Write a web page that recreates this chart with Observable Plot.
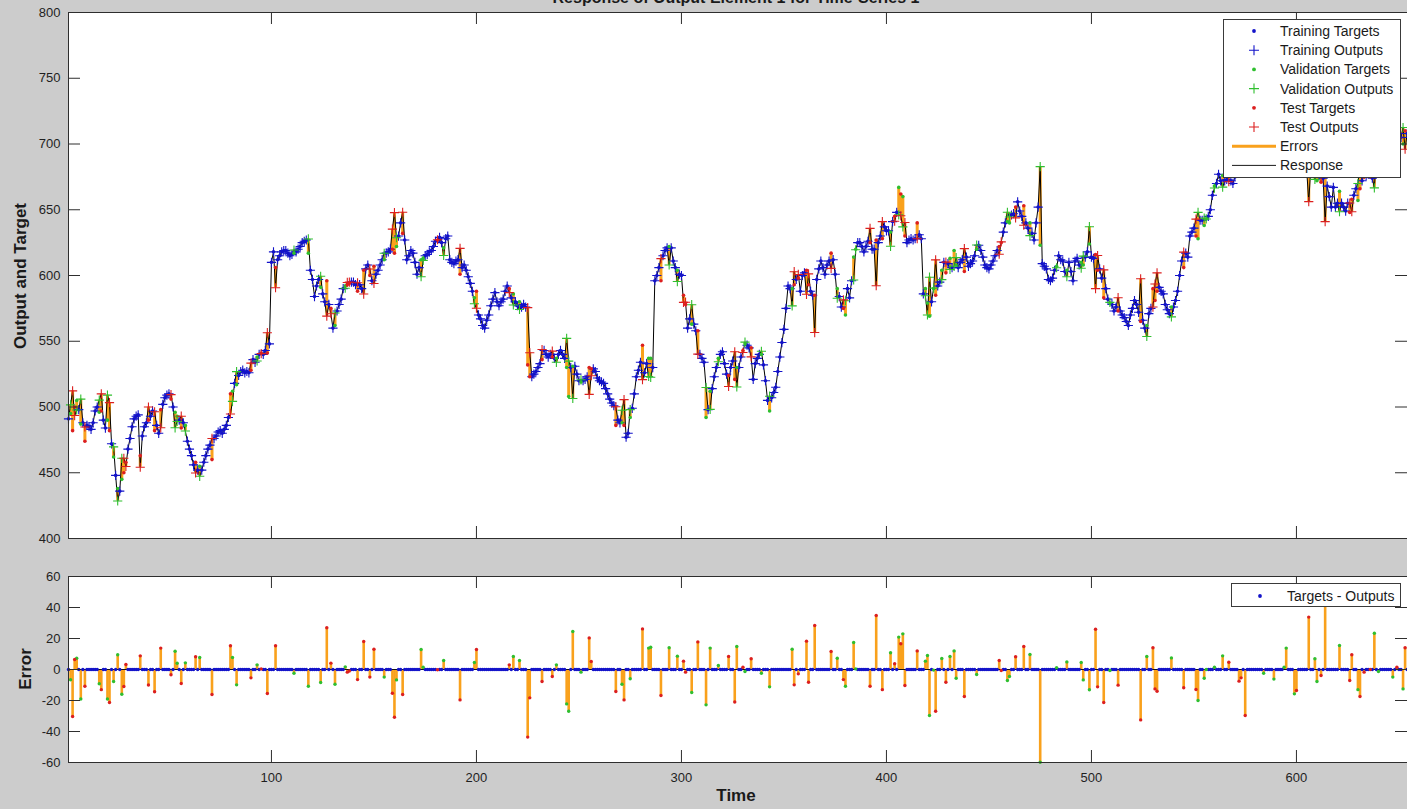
<!DOCTYPE html>
<html>
<head>
<meta charset="utf-8">
<script src="https://cdn.jsdelivr.net/npm/d3@7"></script>
<script src="https://cdn.jsdelivr.net/npm/@observablehq/plot@0.6"></script>
<style>
  html, body { margin: 0; padding: 0; background: #cccccc; overflow: hidden; }
  #fig { position: relative; width: 1407px; height: 809px; font-family: "Liberation Sans", Arial, Helvetica, sans-serif; color: #1a1a1a; }
  .panel { position: absolute; left: 0; }
  .legend { position: absolute; background: #ffffff; border: 1px solid #3a3a3a; box-sizing: border-box; }
  .legend svg { display: block; }
  #labels { position: absolute; left: 0; top: 0; pointer-events: none; }
</style>
</head>
<body>
<div id="fig">
  <div id="top" class="panel" style="top:0px"></div>
  <div id="bottom" class="panel" style="top:560px"></div>
  <svg id="labels" width="1407" height="809">
    <text x="736" y="3" text-anchor="middle" font-weight="bold" font-size="16" fill="#1a1a1a">Response of Output Element 1 for Time-Series 1</text>
    <text transform="translate(26,276) rotate(-90)" text-anchor="middle" font-weight="bold" font-size="17" fill="#1a1a1a">Output and Target</text>
    <text transform="translate(31,669) rotate(-90)" text-anchor="middle" font-weight="bold" font-size="17" fill="#1a1a1a">Error</text>
    <text x="736" y="801" text-anchor="middle" font-weight="bold" font-size="17" fill="#1a1a1a">Time</text>
  </svg>
  <div id="legendTop" class="legend" style="left:1223px;top:19px;width:178px;height:159px"></div>
  <div id="legendBottom" class="legend" style="left:1231px;top:583px;width:170px;height:24px"></div>
</div>
<script>
// Target series, one value per time step (t = 1, 2, 3, ...)
const targets = [
  491,495,482,500,505,498,487,488,474,486,
  485,483,488,497,500,496,497,490,484,490,
  482,472,462,448,438,436,445,450,458,468,
  476,485,491,493,494,463,478,485,488,490,
  493,497,482,486,480,498,502,507,509,510,
  506,500,496,493,490,484,488,486,474,468,
  463,456,458,452,455,452,458,463,468,471,
  460,476,478,481,482,480,483,486,492,510,
  512,518,517,524,527,528,526,527,526,528,
  536,534,538,540,541,540,543,541,548,610,
  618,606,612,615,618,619,619,617,615,616,
  617,618,620,622,625,626,627,617,604,597,
  584,592,597,591,586,580,596,578,575,560,
  562,573,578,582,590,592,593,594,595,595,
  593,588,593,590,604,605,608,600,596,607,
  601,604,608,612,612,617,618,620,620,617,
  622,630,640,632,627,612,615,619,617,610,
  601,606,612,613,615,616,618,619,622,626,
  627,629,625,621,628,630,612,610,609,611,
  612,601,606,608,604,599,594,588,583,588,
  570,567,562,560,566,570,577,582,587,580,
  577,580,582,588,592,590,583,586,580,577,
  580,576,578,576,532,523,523,525,527,530,
  533,536,543,540,538,540,538,537,537,540,
  543,540,537,530,508,530,531,531,525,520,
  519,520,521,523,530,529,529,527,522,520,
  519,518,514,510,506,503,501,486,490,488,
  488,486,477,480,492,499,510,523,528,534,
  547,526,533,537,537,530,596,600,606,596,
  615,619,621,622,621,611,606,604,601,600,
  585,578,560,567,563,563,558,558,540,537,
  534,492,498,512,514,523,530,537,540,542,
  533,525,524,530,535,521,530,530,538,543,
  548,547,545,545,521,533,537,540,540,532,
  520,505,497,507,511,515,527,538,549,559,
  575,592,590,590,593,597,598,588,600,602,
  604,593,588,585,585,597,605,611,606,601,
  608,611,617,612,601,590,584,576,575,570,
  590,583,596,614,620,625,625,622,618,622,
  626,625,620,620,627,625,630,628,637,634,
  634,633,641,645,648,667,662,660,630,625,
  627,628,627,628,640,631,628,586,590,579,
  569,580,590,585,592,595,604,610,602,609,
  613,606,619,608,606,610,612,603,614,607,
  609,611,615,620,623,619,614,608,606,605,
  608,611,615,619,622,625,633,640,641,640,
  646,647,652,656,649,645,653,640,636,640,
  632,627,640,652,623,609,607,605,597,596,
  598,604,607,615,612,611,603,604,610,603,
  596,611,613,608,610,608,614,618,624,614,
  613,616,604,605,598,583,590,582,579,578,
  573,576,573,573,570,568,565,562,570,575,
  581,578,572,565,566,560,562,571,575,590,
  581,588,591,588,586,578,574,571,576,576,
  581,588,600,611,606,617,614,630,633,636,
  630,628,642,642,638,643,645,650,661,668,
  670,677,672,676,672,673,676,672,670,675,
  678,682,684,680,685,688,690,693,690,687,
  690,694,696,695,692,689,692,695,693,690,
  688,691,694,696,694,690,688,690,686,683,
  688,690,686,682,680,690,682,678,680,672,
  676,671,674,685,668,660,652,667,652,655,
  664,655,652,649,655,648,658,661,666,657,
  666,672,675,676,678,677,674,690,692,688,
  692,695,698,700,702,704,700,703,706,708,
  705,700,710,708,705
];

// Time steps held out for validation, and their errors (target - output)
const validationSteps = [
  2,5,7,16,20,23,25,27,53,54,
  58,65,81,83,93,111,118,124,131,136,
  155,161,173,174,184,199,218,221,239,244,
  245,247,251,271,275,284,285,294,298,305,
  312,314,318,327,331,339,343,354,376,380,
  384,385,402,406,408,419,420,421,423,427,
  431,433,434,444,459,460,470,475,483,488,
  495,496,499,509,527,539,552,555,556,560,
  564,584,589,594,595,599,609,610,621,630,
  638,640,647,652
];
const validationErrors = [
  -6.6,7.3,-19,-9.2,-19,-7.7,9.5,-16,11.8,4,
  4.3,7.7,7.7,-9.9,3,-2.4,-10.8,-8.4,-9.5,1.7,
  -4.9,-6.7,12.9,1.5,5.8,4.5,8.4,5.8,3,-22.2,
  -26.9,24.5,-1.7,-9.5,-6,13.8,14.4,14,8.6,-14.8,
  -22.8,13.8,2.6,14.8,-1.3,-2.4,-11.2,13.1,7.3,-10.8,
  17.4,0.4,10.8,20.9,23,5.4,9,-29.7,-0.4,7.1,
  8.4,12,-5.6,-3.2,-7.1,-4.5,9.7,-59.8,1.1,4.9,
  4.5,-6.7,-13.1,-0.6,8.4,7.5,-20,-5.6,0,1.5,
  8.8,-2.4,-6.2,1.5,13.8,-15.7,6.9,-7.7,15.5,-13,
  23.4,-1.3,-4.9,-12.5
];

// Time steps held out for testing, and their errors (target - output)
const testSteps = [
  3,4,9,17,21,28,29,36,40,43,
  46,51,56,63,71,80,90,95,98,102,
  127,129,137,138,142,145,148,150,159,160,
  164,181,192,200,216,225,226,232,237,255,
  256,268,272,281,290,301,302,308,323,326,
  330,334,355,357,361,362,365,373,379,392,
  395,398,404,407,409,415,424,429,438,455,
  456,463,467,502,503,506,513,524,530,531,
  532,545,551,567,572,573,575,600,606,612,
  614,626,627,631,633,636,649,653
];
const testErrors = [
  -30.3,6.5,-10.8,-13,-21.3,-11,3.2,8.8,-10,-14.4,
  13.8,-3.4,-9,8.2,-16.1,15.3,-5.4,0.4,-15.5,15.3,
  26.9,4.1,-1.7,-1,-6.5,18.1,-4.9,13.1,-15.3,-30.8,
  -16.1,-0.2,-19.6,12.9,3,-43.6,-18.3,-7.7,-4.5,20.4,
  5.2,-14.2,-19.6,26.2,-16.8,5.4,-1.7,17.8,8.4,-21,
  1.5,6.9,-9.9,-2.8,18.3,-8.2,28.4,11.6,-6.5,-10.8,
  34.8,-13,3.7,16.6,-10.3,12,-26.9,-8.2,-17.4,5.8,
  -0.6,8.2,14.8,26,-11.2,-21.3,-10.1,-32.5,14,-12.5,
  -14,-11.8,-12.9,4.7,-7.5,-5.4,-29.7,-13.5,33.8,-3.9,
  44,-7.1,9.5,-17.4,-1.7,0,1.5,14
];

// Axis ticks
const timeTicks = [100, 200, 300, 400, 500, 600];
const outputTicks = [400, 450, 500, 550, 600, 650, 700, 750, 800];
const errorTicks = [-60, -40, -20, 0, 20, 40, 60];

// Legend labels
const responseLegend = ["Training Targets", "Training Outputs", "Validation Targets", "Validation Outputs", "Test Targets", "Test Outputs", "Errors", "Response"];
const errorLegend = ["Targets - Outputs"];

const COLOR = {training: "#1313c9", validation: "#2fbf2f", test: "#dc1f1f"};
const ORANGE = "#f9a11c";
const FRAME = "#2e2e2e";
const FONT = "'Liberation Sans', Arial, Helvetica, sans-serif";

// Build one record per time step
const setOf = new Map();
const errOf = new Map();
validationSteps.forEach((t, i) => { setOf.set(t, "validation"); errOf.set(t, validationErrors[i]); });
testSteps.forEach((t, i) => { setOf.set(t, "test"); errOf.set(t, testErrors[i]); });
const rows = targets.map((target, i) => {
  const t = i + 1;
  const error = errOf.has(t) ? errOf.get(t) : 0;
  return {t, target, error, output: target - error, set: setOf.get(t) || "training"};
});
const bySet = s => rows.filter(d => d.set === s);
const sets = ["training", "validation", "test"];

// Thin "+" marker
const plusSymbol = {
  draw(context, size) {
    const r = Math.sqrt(size / Math.PI);
    context.moveTo(-r, 0); context.lineTo(r, 0);
    context.moveTo(0, -r); context.lineTo(0, r);
  }
};

const WIDTH = 1407;
const ML = 68;
const plotW = WIDTH - ML;
const xDomain = [1, 1 + plotW / 2.05];
const TICK = 12;
const style = {background: "transparent", fontFamily: FONT, fontSize: "13px", color: "#1f1f1f"};

function boxTicks(yTicksArr, plotH) {
  return [
    Plot.ruleX(timeTicks, {insetTop: plotH - TICK, stroke: FRAME}),
    Plot.ruleX(timeTicks, {insetBottom: plotH - TICK, stroke: FRAME}),
    Plot.ruleY(yTicksArr, {insetRight: plotW - TICK, stroke: FRAME}),
    Plot.ruleY(yTicksArr, {insetLeft: plotW - TICK, stroke: FRAME})
  ];
}

// Upper panel: targets, outputs, errors and response
const topH = 560, topMT = 12, topMB = 22;
const topPlot = Plot.plot({
  width: WIDTH, height: topH,
  marginLeft: ML, marginRight: 0, marginTop: topMT, marginBottom: topMB,
  style,
  x: {domain: xDomain, axis: null},
  y: {domain: [400, 800], ticks: outputTicks, tickSize: 0, tickPadding: 8, label: null, tickFormat: d => String(d)},
  marks: [
    Plot.frame({fill: "white", stroke: "none"}),
    Plot.ruleX(rows.filter(d => d.error !== 0), {x: "t", y1: "target", y2: "output", stroke: ORANGE, strokeWidth: 3}),
    Plot.line(rows, {x: "t", y: "output", stroke: "#000", strokeWidth: 1}),
    ...sets.flatMap(s => [
      Plot.dot(bySet(s), {x: "t", y: "target", r: 1.8, fill: COLOR[s], stroke: "none"}),
      Plot.dot(bySet(s), {x: "t", y: "output", symbol: plusSymbol, r: 4.6, stroke: COLOR[s], strokeWidth: 1.1, fill: "none"})
    ]),
    ...boxTicks(outputTicks, topH - topMT - topMB),
    Plot.frame({stroke: FRAME, strokeWidth: 1})
  ]
});
document.getElementById("top").append(topPlot);

// Lower panel: errors per time step
const botH = 232, botMT = 16, botMB = 30;
const bottomPlot = Plot.plot({
  width: WIDTH, height: botH,
  marginLeft: ML, marginRight: 0, marginTop: botMT, marginBottom: botMB,
  style,
  x: {domain: xDomain, ticks: timeTicks, tickSize: 0, tickPadding: 10, label: null, tickFormat: d => String(d)},
  y: {domain: [-60, 60], ticks: errorTicks, tickSize: 0, tickPadding: 8, label: null, tickFormat: d => String(d)},
  marks: [
    Plot.frame({fill: "white", stroke: "none"}),
    Plot.ruleX(rows.filter(d => d.error !== 0), {x: "t", y1: 0, y2: "error", stroke: ORANGE, strokeWidth: 2.6}),
    Plot.ruleY([0], {stroke: "#111", strokeWidth: 1}),
    ...sets.map(s => Plot.dot(bySet(s), {x: "t", y: "error", r: 1.7, fill: COLOR[s], stroke: "none"})),
    ...boxTicks(errorTicks, botH - botMT - botMB),
    Plot.frame({stroke: FRAME, strokeWidth: 1})
  ]
});
document.getElementById("bottom").append(bottomPlot);

// Legends
const NS = "http://www.w3.org/2000/svg";
function el(name, attrs, parent) {
  const e = document.createElementNS(NS, name);
  for (const k in attrs) e.setAttribute(k, attrs[k]);
  parent.append(e);
  return e;
}
function dotKey(svg, x, y, color) { el("circle", {cx: x, cy: y, r: 1.9, fill: color}, svg); }
function plusKey(svg, x, y, color) {
  el("path", {d: `M${x - 5},${y}H${x + 5}M${x},${y - 5}V${y + 5}`, stroke: color, "stroke-width": 1.1, fill: "none"}, svg);
}
function label(svg, x, y, text) {
  const t = el("text", {x, y: y + 5, "font-size": 14, fill: "#1a1a1a", "font-family": FONT}, svg);
  t.textContent = text;
}

{
  const svg = el("svg", {width: 176, height: 157}, document.getElementById("legendTop"));
  const keyX = 30, textX = 56, step = 19.2;
  const kinds = [["dot", COLOR.training], ["plus", COLOR.training], ["dot", COLOR.validation], ["plus", COLOR.validation], ["dot", COLOR.test], ["plus", COLOR.test], ["errors", ORANGE], ["response", "#1a1a1a"]];
  responseLegend.forEach((name, i) => {
    const y = 11 + i * step;
    const [kind, color] = kinds[i];
    if (kind === "dot") dotKey(svg, keyX, y, color);
    else if (kind === "plus") plusKey(svg, keyX, y, color);
    else el("line", {x1: 8, x2: 52, y1: y, y2: y, stroke: color, "stroke-width": kind === "errors" ? 3 : 1}, svg);
    label(svg, textX, y, name);
  });
}
{
  const svg = el("svg", {width: 168, height: 22}, document.getElementById("legendBottom"));
  dotKey(svg, 28, 12, COLOR.training);
  label(svg, 55, 12, errorLegend[0]);
}
</script>
</body>
</html>
